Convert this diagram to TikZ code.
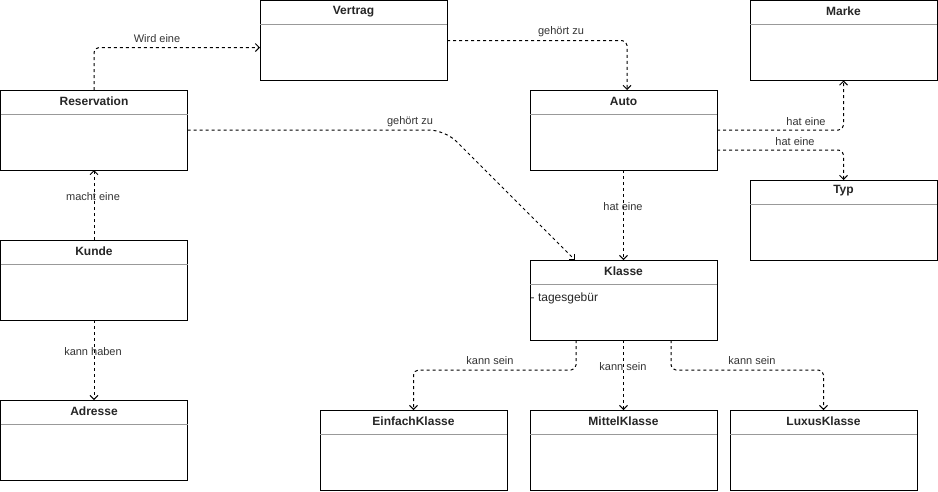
\documentclass[tikz,border=0pt]{standalone}
\usepackage{fontspec}
\setmainfont{Liberation Sans}
\usetikzlibrary{arrows.meta,calc}
\newcommand{\umlbox}[4]{%
  \node[cls] (#1) at (#2,#3) {};
  \node[ttl] (#1-t) at ($(#1.north)+(0,11)$) {#4};
  \draw[div] ($(#1.north west)+(0,24)$) -- ($(#1.north east)+(0,24)$);}
\begin{document}
\begin{tikzpicture}[x=1pt,y=-1pt,
 cls/.style={draw=black,line width=1pt,fill=white,minimum width=187pt,minimum height=80pt,anchor=north west,inner sep=0pt,outer sep=0pt},
 ttl/.style={font=\bfseries\fontsize{12}{14}\selectfont,text=black!85,anchor=center,inner sep=0pt},
 div/.style={draw=black!40,line width=1pt},
 rel/.style={draw=black,line width=1pt,dash pattern=on 3pt off 3pt,rounded corners=5pt,-{Straight Barb[length=4pt,width=8pt]}},
 lbl/.style={font=\fontsize{11}{13}\selectfont,text=black!80,inner sep=1pt}]
\useasboundingbox (0,0) rectangle (938,491);
\umlbox{vertrag}{260}{0.5}{Vertrag}
\umlbox{marke}{750}{0.5}{Marke}
\umlbox{res}{0.5}{90}{Reservation}
\umlbox{auto}{530}{90}{Auto}
\umlbox{typ}{750}{180}{Typ}
\umlbox{kunde}{0.5}{240}{Kunde}
\umlbox{klasse}{530}{260}{Klasse}
\umlbox{adresse}{0.5}{400}{Adresse}
\umlbox{einfach}{320}{410}{EinfachKlasse}
\umlbox{mittel}{530}{410}{MittelKlasse}
\umlbox{luxus}{730}{410}{LuxusKlasse}
\node[font=\fontsize{12}{14}\selectfont,text=black!85,anchor=west,inner sep=0pt] (attr) at (530.5,298) {- tagesgebür};
% connectors
\draw[rel] (res.north) |- ($(vertrag.north west)+(0,47)$);
\draw[rel] ($(vertrag.north east)+(0,40)$) -| ($(auto.north west)+(97,0)$);
\draw[rel,rounded corners=16pt] (res.east) -- (445,130) -- ($(klasse.north west)+(45,0)$);
\draw[rel] (kunde.north) -- (res.south);
\draw[rel] (auto.east) -| (marke.south);
\draw[rel] ($(auto.north east)+(0,60)$) -| (typ.north);
\draw[rel] (auto.south) -- (klasse.north);
\draw[rel] (kunde.south) -- (adresse.north);
\draw[rel] ($(klasse.south west)+(46,0)$) -- ++(0,30) -| (einfach.north);
\draw[rel] (klasse.south) -- (mittel.north);
\draw[rel] ($(klasse.south west)+(141,0)$) -- ++(0,30) -| (luxus.north);
% labels
\node[lbl] (l1) at (157,39) {Wird eine};
\node[lbl] (l2) at (561,32) {gehört zu};
\node[lbl] (l3) at (410,122) {gehört zu};
\node[lbl] (l4) at (93,197) {macht eine};
\node[lbl] (l5) at (806,122) {hat eine};
\node[lbl] (l6) at (795,142) {hat eine};
\node[lbl] (l7) at (623,207) {hat eine};
\node[lbl] (l8) at (93,352) {kann haben};
\node[lbl] (l9) at (490,361) {kann sein};
\node[lbl] (l10) at (623,367) {kann sein};
\node[lbl] (l11) at (752,361) {kann sein};
\end{tikzpicture}
\end{document}
